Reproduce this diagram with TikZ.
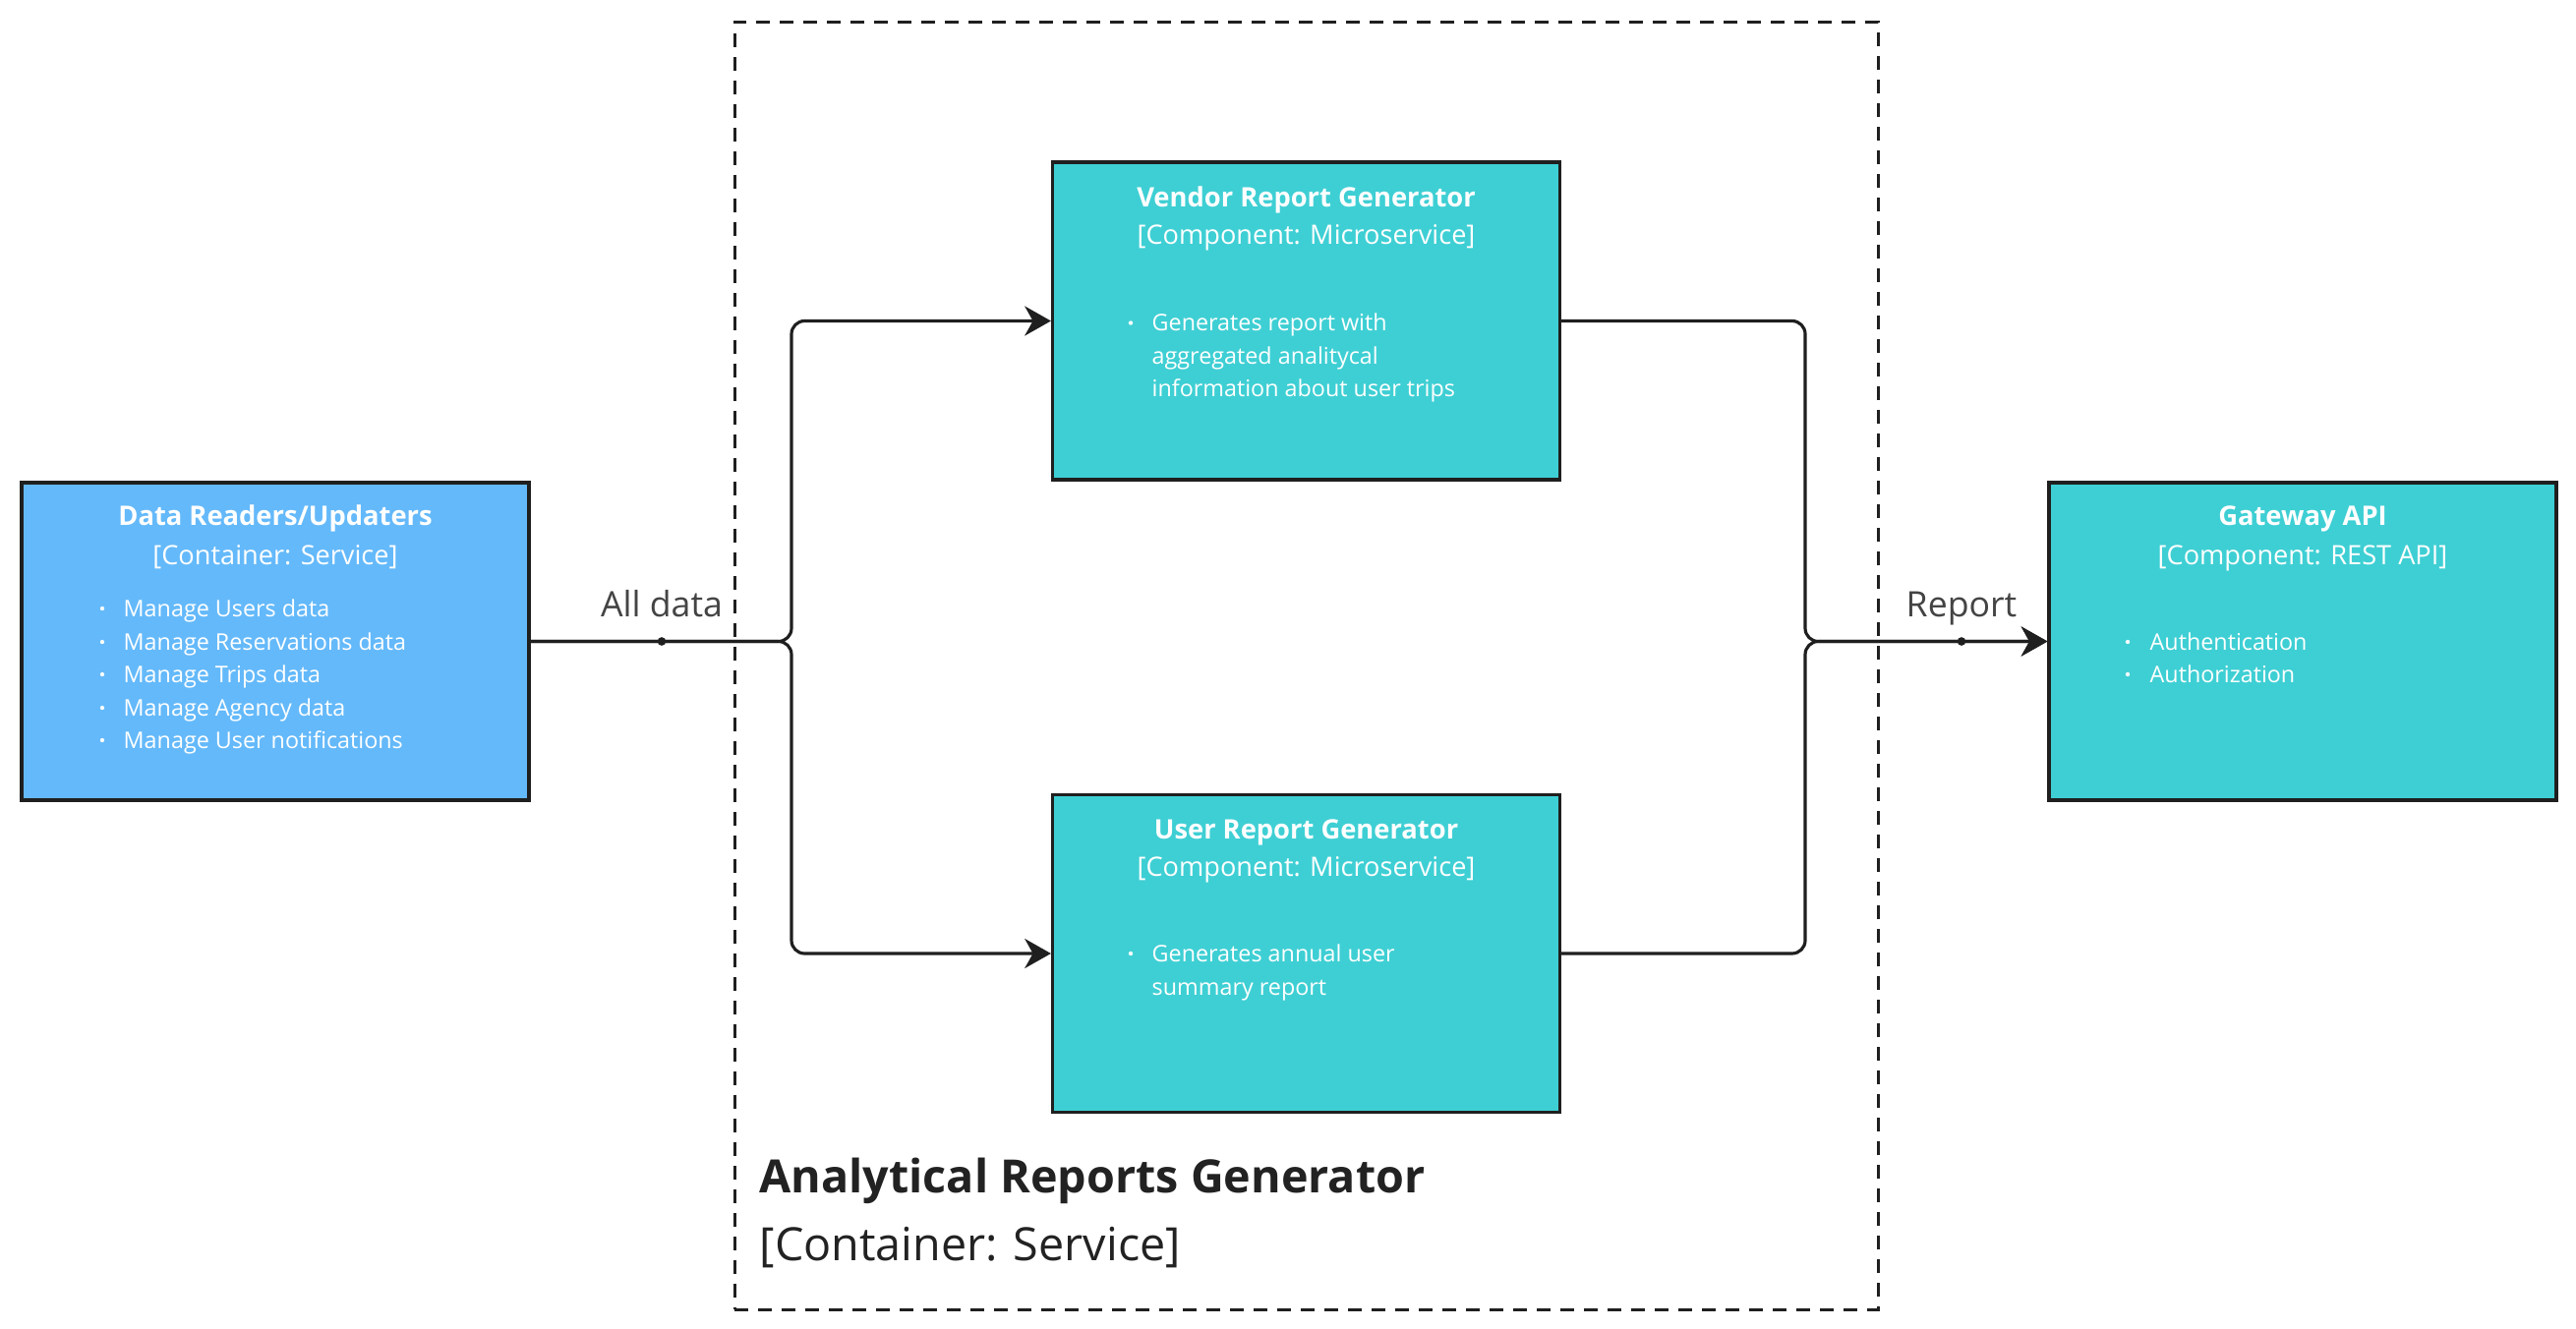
\documentclass[tikz,border=0pt]{standalone}
\usepackage{fontspec}
\setmainfont{Open Sans}
\usetikzlibrary{arrows.meta}
\definecolor{blueF}{HTML}{64B9FA}
\definecolor{tealF}{HTML}{3ECFD4}
\definecolor{edgeC}{HTML}{1F1F1F}
\definecolor{lblC}{HTML}{444444}
\definecolor{ttlC}{HTML}{222222}
\newcommand\bitem[6]{%
  \ifnum#6=1 \fill[white] (#2,#4-8) circle (0.65pt);\fi
  \node[btext, anchor=base west] (#1) at (#3,#4) {#5};}
\begin{document}
\begin{tikzpicture}[x=0.3pt,y=-0.3pt,
  box/.style={draw=edgeC, line width=0.95pt, minimum width=154.8pt, minimum height=96.9pt, inner sep=0pt},
  btitle/.style={font=\fontsize{8.2}{10}\selectfont\bfseries, text=white, anchor=base, inner sep=0pt},
  bsub/.style={font=\fontsize{8.15}{10}\selectfont, text=white, anchor=base, inner sep=0pt},
  btext/.style={font=\fontsize{7.0}{9}\selectfont, text=white, inner sep=0pt},
  conn/.style={draw=edgeC, line width=0.95pt, rounded corners=4pt},
  elabel/.style={font=\fontsize{10.7}{13}\selectfont, text=lblC, anchor=base, inner sep=0pt},
  tip/.style={-{Stealth[length=8pt, width=9pt, inset=2.5pt]}}]
\useasboundingbox (0,0) rectangle (2620,1351);
\fill[white] (0,0) rectangle (2620,1351);

% container
\node[draw=edgeC, line width=0.9pt, dash pattern=on 4.2pt off 3pt, minimum width=348.9pt, minimum height=393pt, inner sep=0pt] (cont) at (1328.5,677) {};
\node[font=\fontsize{14}{17}\selectfont\bfseries, text=ttlC, anchor=base west, inner sep=0pt] (contT) at (772,1213) {Analytical Reports Generator};
\node[font=\fontsize{14}{17}\selectfont, text=ttlC, anchor=base west, inner sep=0pt] (contS) at (772,1282) {[Container: Service]};

% boxes
\node[box, fill=blueF] (dr) at (280,652.5) {};
\node[box, fill=tealF] (vr) at (1328.5,326.5) {};
\node[box, fill=tealF] (ur) at (1328.5,970) {};
\node[box, fill=tealF] (gw) at (2342,652.5) {};

% Data readers text
\node[btitle] (drT) at (280,534) {Data Readers/Updaters};
\node[bsub] (drS) at (280,574) {[Container: Service]};
\bitem{dr1}{104}{125}{627}{Manage Users data}{1}
\bitem{dr2}{104}{125}{661}{Manage Reservations data}{1}
\bitem{dr3}{104}{125}{694}{Manage Trips data}{1}
\bitem{dr4}{104}{125}{728}{Manage Agency data}{1}
\bitem{dr5}{104}{125}{761}{Manage User notifications}{1}

% Vendor text
\node[btitle] (vrT) at (1328.5,210) {Vendor Report Generator};
\node[bsub] (vrS) at (1328.5,248) {[Component: Microservice]};
\bitem{vr1}{1150}{1171}{336.5}{Generates report with}{1}
\bitem{vr2}{1150}{1171}{370}{aggregated analitycal}{0}
\bitem{vr3}{1150}{1171}{403}{information about user trips}{0}

% User text
\node[btitle] (urT) at (1328.5,853) {User Report Generator};
\node[bsub] (urS) at (1328.5,891) {[Component: Microservice]};
\bitem{ur1}{1150}{1171}{978}{Generates annual user}{1}
\bitem{ur2}{1150}{1171}{1012}{summary report}{0}

% Gateway text
\node[btitle] (gwT) at (2342,534) {Gateway API};
\node[bsub] (gwS) at (2342,574) {[Component: REST API]};
\bitem{gw1}{2164}{2186}{661}{Authentication}{1}
\bitem{gw2}{2164}{2186}{694}{Authorization}{1}

% connectors
\coordinate (jl) at (805,652.5);
\coordinate (jr) at (1836,652.5);
\coordinate (la) at (673,652.5);
\coordinate (lb) at (1995,652.5);
\draw[conn, tip] (dr.east) -- (jl) |- (vr.west);
\draw[conn, tip] (dr.east) -- (jl) |- (ur.west);
\draw[conn, tip] (vr.east) -| (jr) -- (gw.west);
\draw[conn, tip] (ur.east) -| (jr) -- (gw.west);
\fill[edgeC] (la) circle (1.3pt);
\fill[edgeC] (lb) circle (1.3pt);
\node[elabel] (laT) at (673,627) {All data};
\node[elabel] (lbT) at (1995,627) {Report};
\end{tikzpicture}
\end{document}
